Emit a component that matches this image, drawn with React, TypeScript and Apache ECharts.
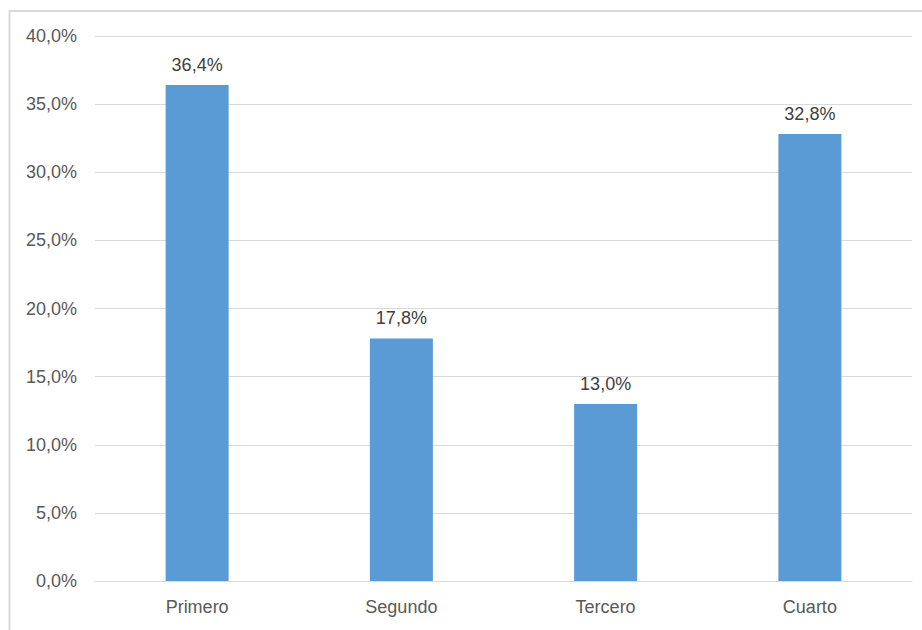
import React, { useEffect, useRef } from "react";
import * as echarts from "echarts";

const categories = ["Primero", "Segundo", "Tercero", "Cuarto"];
const values = [36.4, 17.8, 13.0, 32.8];
const yMin = 0;
const yMax = 40;
const yInterval = 5;

const fmt = (v: number) => v.toFixed(1).replace(".", ",") + "%";

export default function App() {
  const ref = useRef<HTMLDivElement>(null);
  useEffect(() => {
    if (!ref.current) return;
    const chart = echarts.init(ref.current, null, { renderer: "svg" });
    const font = "'Liberation Sans Narrow', 'Liberation Sans', Arial, sans-serif";
    chart.setOption({
      animation: false,
      backgroundColor: "#ffffff",
      graphic: [
        {
          type: "rect",
          shape: { x: 9.5, y: 11, width: 1000, height: 1000 },
          style: { fill: "none", stroke: "#d9d9d9", lineWidth: 2 },
          silent: true,
        },
      ],
      grid: { left: 95, right: 10, top: 36, bottom: 49, containLabel: false },
      xAxis: {
        type: "category",
        data: categories,
        axisLine: { show: true, lineStyle: { color: "#d9d9d9", width: 1 } },
        axisTick: { show: false },
        axisLabel: { color: "#595959", fontSize: 18, fontFamily: font, margin: 17 },
        splitLine: { show: false },
      },
      yAxis: {
        type: "value",
        min: yMin,
        max: yMax,
        interval: yInterval,
        axisLine: { show: false },
        axisTick: { show: false },
        axisLabel: {
          color: "#595959",
          fontSize: 18,
          fontFamily: font,
          margin: 18,
          formatter: (v: number) => fmt(v),
        },
        splitLine: { show: true, lineStyle: { color: "#d9d9d9", width: 1 } },
      },
      series: [
        {
          type: "bar",
          data: values,
          barWidth: 63,
          itemStyle: { color: "#5b9bd5" },
          label: {
            show: true,
            position: "top",
            distance: 11,
            color: "#404040",
            fontSize: 18,
            fontFamily: font,
            formatter: (p: any) => fmt(p.value),
          },
        },
      ],
    });
    return () => chart.dispose();
  }, []);
  return (
    <div style={{ position: "fixed", left: 0, top: 0, width: 922, height: 630, overflow: "hidden" }}>
      <div ref={ref} style={{ width: 922, height: 630 }} />
    </div>
  );
}
